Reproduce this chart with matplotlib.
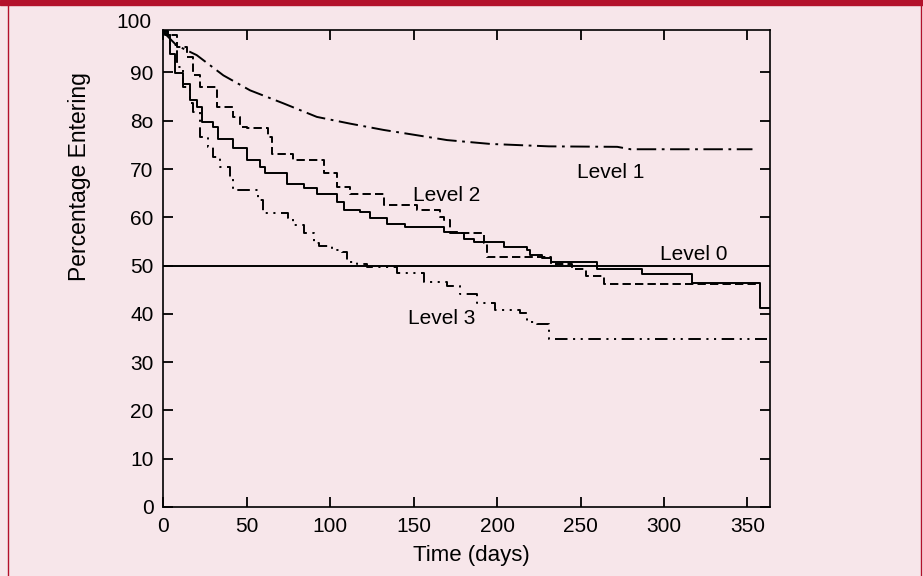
import matplotlib
matplotlib.use("Agg")
import matplotlib.pyplot as plt
from matplotlib.patches import Rectangle
from matplotlib.lines import Line2D

plt.rcParams['font.family'] = ['Liberation Sans', 'DejaVu Sans']
plt.rcParams['lines.scale_dashes'] = False

# --- данные ---
# Level 0 (сплошная ступенчатая кривая)
t0 = [0, 2, 4, 7, 12, 16, 20, 23, 30, 33, 42, 50, 58, 61, 74, 84, 92, 104, 108,
      118, 124, 134, 145, 168, 172, 180, 186, 204, 218, 220, 227, 232, 260, 287,
      317, 357.5, 363]
s0 = [98.5, 97.7, 93.9, 89.8, 87.7, 84.3, 82.9, 79.8, 78.7, 76.3, 74.3, 71.8,
      70.5, 69.1, 67.0, 66.0, 64.9, 63.2, 61.5, 61.1, 59.8, 58.7, 58.0, 57.0,
      56.7, 55.6, 54.9, 53.9, 53.2, 52.2, 51.5, 50.8, 49.4, 48.3, 46.4, 41.3, 41.3]

# Level 1 (штрих-пунктир)
t1 = [0, 2, 8, 20, 36, 52, 72, 92, 112, 132, 152, 170, 196, 231, 272, 280, 353]
s1 = [98.5, 97.7, 95.6, 93.6, 89.4, 86.3, 83.6, 80.8, 79.4, 78.1, 77.0, 76.0,
      75.2, 74.7, 74.6, 74.1, 74.1]

# Level 2 (короткий пунктир)
t2 = [0, 3, 8, 14, 18, 22, 32, 42, 46, 50, 63, 65, 78, 96, 104, 112, 132, 152,
      166, 168, 172, 178, 192, 194, 216, 232, 245, 253, 264, 357]
s2 = [98.5, 97.7, 95.3, 93.2, 89.4, 87.0, 82.9, 80.8, 78.7, 78.4, 76.7, 73.2,
      71.8, 69.1, 66.3, 64.9, 62.5, 61.5, 60.1, 59.4, 57.0, 56.7, 54.6, 51.8,
      51.8, 50.4, 49.4, 47.8, 46.2, 46.2]

# Level 3 (штрих-две точки)
t3 = [0, 1, 4, 8, 12, 16, 18, 22, 27, 30, 34, 40, 42, 57, 60, 75, 78, 84, 90,
      93, 101, 107, 110, 116, 122, 140, 156, 170, 178, 188, 199, 214, 218, 224,
      231, 361.5]
s3 = [98.5, 97.7, 95.6, 91.2, 87.0, 83.6, 81.8, 76.7, 74.6, 72.5, 70.5, 68.4,
      65.6, 63.6, 60.8, 59.8, 58.4, 56.7, 54.6, 54.0, 53.2, 52.9, 50.8, 50.4,
      49.8, 48.4, 46.6, 45.7, 44.2, 42.2, 40.8, 40.1, 38.4, 37.9, 34.9, 34.9]

median_level = 50
x_ticks = [0, 50, 100, 150, 200, 250, 300, 350]
y_ticks = [0, 10, 20, 30, 40, 50, 60, 70, 80, 90]
y_tick_labels = ['0', '10', '20', '30', '40', '50', '60', '70', '8o', '90']

labels = ['Level 0', 'Level 1', 'Level 2', 'Level 3']
label_x = [318, 268, 170, 167]
label_y = [52.4, 69.3, 64.6, 39.1]

# --- цвета ---
bg = '#f7e6ea'
border = '#b3112b'

fig = plt.figure(figsize=(9.23, 5.76), dpi=100, facecolor=bg)
W, H = 923, 576

# рамка страницы
fig.patches.append(Rectangle((0, 1 - 5 / H), 1, 5 / H, transform=fig.transFigure,
                             color=border, zorder=0))
fig.lines.append(Line2D([7.8 / W, 7.8 / W], [0, 1], transform=fig.transFigure,
                        color=border, lw=1))
fig.lines.append(Line2D([920.5 / W, 920.5 / W], [0, 1], transform=fig.transFigure,
                        color=border, lw=1))

ax = fig.add_axes([163.3 / W, 1 - 507 / H, (770 - 163.3) / W, (507 - 30) / H])
ax.set_facecolor(bg)

lw = 1.4
ax.plot(t0, s0, color='black', lw=lw, drawstyle='steps-post')
ax.plot(t1, s1, color='black', lw=lw, dashes=(14, 4, 2, 4))
ax.plot(t2, s2, color='black', lw=lw, dashes=(6, 3), drawstyle='steps-post')
ax.plot(t3, s3, color='black', lw=lw, dashes=(9, 4, 1.5, 4, 1.5, 4),
        drawstyle='steps-post')
ax.axhline(median_level, color='black', lw=lw)

for name, x, y in zip(labels, label_x, label_y):
    ax.text(x, y, name, fontsize=15, ha='center', va='center')

ax.set_xlim(0, 363.5)
ax.set_ylim(0, 98.8)
ax.set_xticks(x_ticks)
ax.set_yticks(y_ticks)
ax.set_yticklabels(y_tick_labels)
ax.tick_params(direction='in', length=7, width=1.3, labelsize=15,
               top=True, right=True, pad=7)
for sp in ax.spines.values():
    sp.set_linewidth(1.2)

# подпись 100 над рамкой
fig.text(152 / W, 1 - 22 / H, '100', fontsize=15, ha='right', va='center')

fig.text(471 / W, 1 - 556 / H, 'Time (days)', fontsize=16, ha='center', va='center')
fig.text(79.7 / W, 1 - 176.5 / H, 'Percentage Entering', fontsize=16.5,
         ha='center', va='center', rotation=90)

fig.savefig('out.png', dpi=100, facecolor=bg)
